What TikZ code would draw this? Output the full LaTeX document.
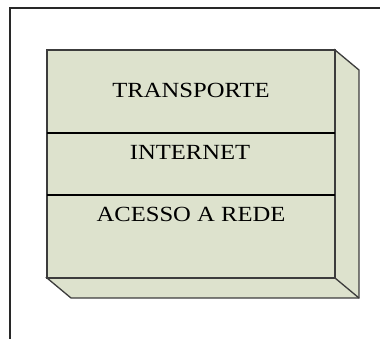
\documentclass[tikz,border=0pt]{standalone}
\usepackage{fontspec}
\setmainfont{Liberation Serif}
\begin{document}
\begin{tikzpicture}[x=0.75pt,y=-0.75pt,
  boxfill/.style={fill={rgb,255:red,221;green,226;blue,205}},
  edge/.style={draw={rgb,255:red,60;green,60;blue,60},line width=1pt},
  divider/.style={draw=black,line width=0.9pt},
  label/.style={font=\fontsize{16.2pt}{18pt}\selectfont,xscale=1.14,inner sep=0pt,anchor=base}]
\useasboundingbox (0,0) rectangle (380,339);
% outer frame: top and left rules
\coordinate (ftl) at (10,8);
\coordinate (ftr) at (380,8);
\coordinate (fbl) at (10,339);
\draw[line width=1.5pt,draw={rgb,255:red,40;green,40;blue,40}] (ftr) -- (ftl) -- (fbl);
% front face corners
\coordinate (a) at (47,50);
\coordinate (b) at (335,50);
\coordinate (c) at (335,278);
\coordinate (d) at (47,278);
% extruded depth
\coordinate (b2) at (359,70);
\coordinate (c2) at (359,298);
\coordinate (d2) at (71,298);
% side and bottom bevel
\filldraw[boxfill,edge,line join=miter] (b) -- (b2) -- (c2) -- (d2) -- (d) -- (c) -- cycle;
\draw[edge] (c) -- (c2);
% front face
\filldraw[boxfill,edge] (a) rectangle (c);
% layer dividers
\coordinate (l1) at (47,133);
\coordinate (r1) at (335,133);
\coordinate (l2) at (47,195);
\coordinate (r2) at (335,195);
\draw[divider] (l1) -- (r1);
\draw[divider] (l2) -- (r2);
% layer names
\node[label] (transporte) at (191,98) {TRANSPORTE};
\node[label] (internet) at (190,159.5) {INTERNET};
\node[label] (acesso) at (191,221.5) {ACESSO A REDE};
\end{tikzpicture}
\end{document}
